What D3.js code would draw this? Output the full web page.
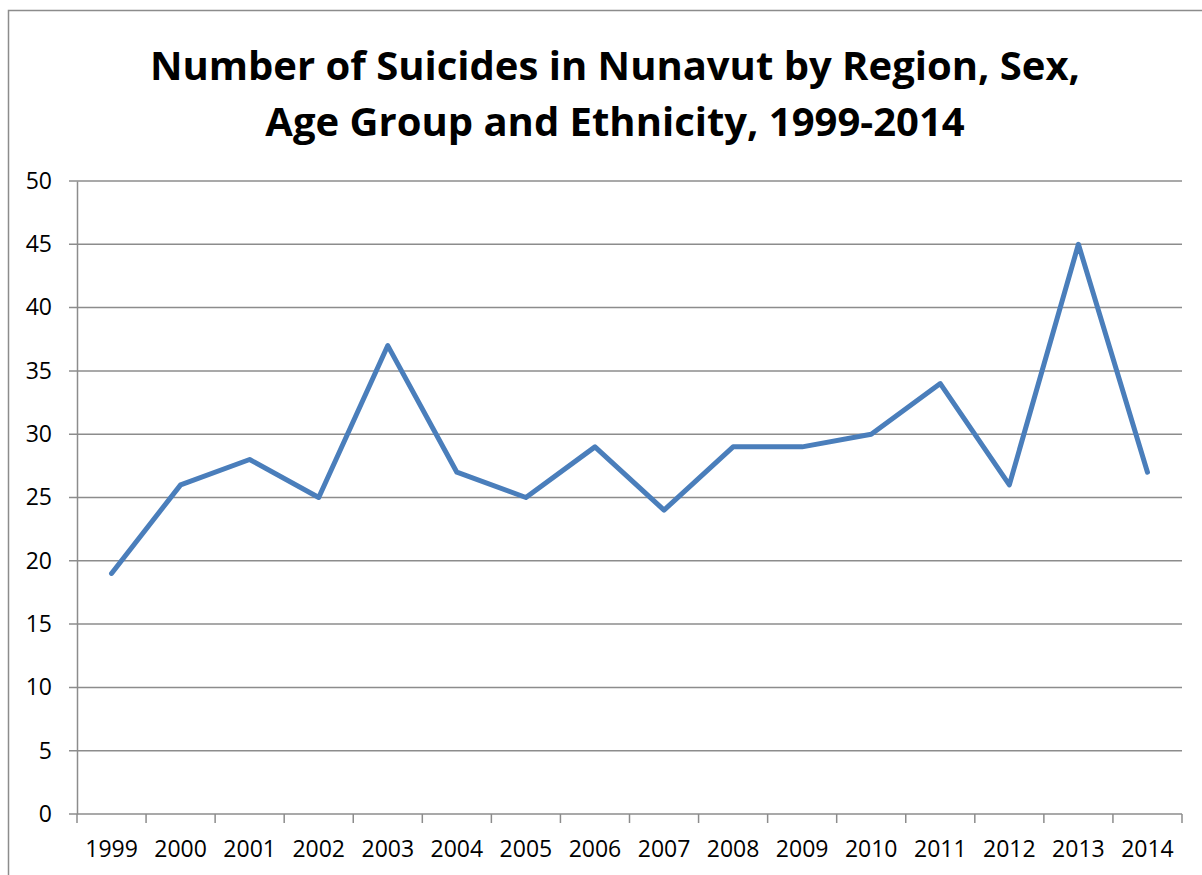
<!DOCTYPE html>
<html>
<head>
<meta charset="utf-8">
<script src="https://cdn.jsdelivr.net/npm/d3@7"></script>
<style>
  body { margin: 0; background: #fff; }
  svg { display: block; }
  text { font-family: "Open Sans", "Liberation Sans", sans-serif; }
</style>
</head>
<body>
<div class="visHolder"></div>
<script>
var years = ["1999", "2000", "2001", "2002", "2003", "2004", "2005", "2006",
             "2007", "2008", "2009", "2010", "2011", "2012", "2013", "2014"];
var suicides = [19, 26, 28, 25, 37, 27, 25, 29, 24, 29, 29, 30, 34, 26, 45, 27];
var yTicks = [0, 5, 10, 15, 20, 25, 30, 35, 40, 45, 50];
var titleLines = ["Number of Suicides in Nunavut by Region, Sex,",
                  "Age Group and Ethnicity, 1999-2014"];

var width = 1202,
    height = 875,
    plotLeft = 77,
    plotRight = 1182,
    plotTop = 181,
    plotBottom = 814;

var svg = d3.select(".visHolder")
    .append("svg")
    .attr("width", width)
    .attr("height", height);

// chart frame
svg.append("rect")
    .attr("x", 8.5)
    .attr("y", 10.5)
    .attr("width", 1300)
    .attr("height", 1000)
    .attr("fill", "none")
    .attr("stroke", "#8c8c8c")
    .attr("stroke-width", 1.5);

svg.selectAll(".title")
    .data(titleLines)
    .enter()
    .append("text")
    .attr("class", "title")
    .attr("x", 615)
    .attr("y", function (d, i) { return 80 + i * 56; })
    .attr("text-anchor", "middle")
    .style("font-size", "40px")
    .style("font-weight", "bold")
    .text(function (d) { return d; });

var xScale = d3.scaleBand().domain(years).range([plotLeft, plotRight]);
var yScale = d3.scaleLinear().domain([0, 50]).range([plotBottom, plotTop]);

// gridlines
svg.append("g")
    .selectAll("line")
    .data(yTicks)
    .enter()
    .append("line")
    .attr("x1", plotLeft - 8)
    .attr("x2", plotRight)
    .attr("y1", function (d) { return yScale(d); })
    .attr("y2", function (d) { return yScale(d); })
    .attr("stroke", "#8c8c8c")
    .attr("stroke-width", 1.5);

var yAxis = d3.axisLeft(yScale).tickValues(yTicks).tickSize(0).tickPadding(25);
var yg = svg.append("g")
    .attr("transform", "translate(" + plotLeft + ",0)")
    .call(yAxis);
yg.select(".domain").attr("stroke", "#8c8c8c").attr("stroke-width", 1.5);
yg.selectAll("text").style("font-size", "23px").attr("fill", "#000");

var xAxis = d3.axisBottom(xScale).tickSize(0).tickPadding(27);
var xg = svg.append("g")
    .attr("transform", "translate(0," + plotBottom + ")")
    .call(xAxis);
xg.select(".domain").remove();
xg.selectAll("text").style("font-size", "23px").attr("fill", "#000");

// category boundary ticks
var bounds = years.map(function (y) { return xScale(y); }).concat([plotRight]);
svg.append("g")
    .selectAll("line")
    .data(bounds)
    .enter()
    .append("line")
    .attr("x1", function (d) { return d; })
    .attr("x2", function (d) { return d; })
    .attr("y1", plotBottom)
    .attr("y2", plotBottom + 9)
    .attr("stroke", "#8c8c8c")
    .attr("stroke-width", 1.5);

var line = d3.line()
    .x(function (d, i) { return xScale(years[i]) + xScale.bandwidth() / 2; })
    .y(function (d) { return yScale(d); });

svg.append("path")
    .datum(suicides)
    .attr("d", line)
    .attr("fill", "none")
    .attr("stroke", "#4a7ebb")
    .attr("stroke-width", 5)
    .attr("stroke-linejoin", "round")
    .attr("stroke-linecap", "round");
</script>
</body>
</html>
